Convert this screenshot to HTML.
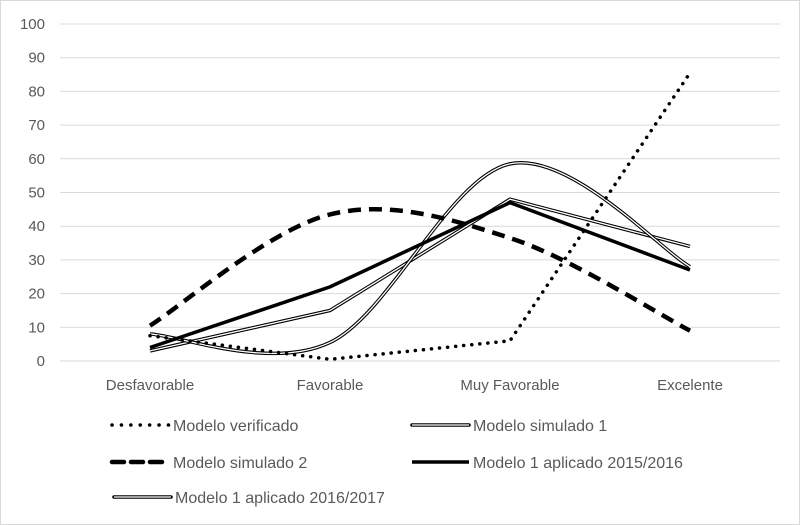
<!DOCTYPE html>
<html><head><meta charset="utf-8"><style>
html,body{margin:0;padding:0;background:#fff;}
svg{display:block;font-family:"Liberation Sans",sans-serif;}
</style></head><body>
<svg id="chart" width="800" height="525">
<rect x="0.5" y="0.5" width="799" height="524" fill="#fff" stroke="#d9d9d9"/>
<g id="grid"></g><g id="ylab"></g><g id="xlab"></g><g id="series"></g><g id="legend"></g>
</svg>
<script>
const categories=["Desfavorable","Favorable","Muy Favorable","Excelente"];
const yTicks=[0,10,20,30,40,50,60,70,80,90,100];
const verificado=[7.5,0.5,6,85.5];
const simulado1=[3,15,48,34];
const simulado2=[10.5,43.5,36.5,9];
const aplicado1516=[4,22,47,27];
const aplicado1617=[8,5.5,58.5,28];
const NS="http://www.w3.org/2000/svg";
const x0=60,x1=780,yBase=361,yTop=24;
function xs(i){return x0+(x1-x0)*(i+0.5)/categories.length;}
function ys(v){return yBase-(yBase-yTop)*v/100;}
function mk(tag,attrs,parent){const e=document.createElementNS(NS,tag);for(const k in attrs)e.setAttribute(k,attrs[k]);parent.appendChild(e);return e;}
const grid=document.getElementById('grid'),ylab=document.getElementById('ylab'),xlab=document.getElementById('xlab');
yTicks.forEach(t=>{
 const l=mk('line',{x1:x0,x2:x1,y1:ys(t),y2:ys(t),stroke:'#d9d9d9','stroke-width':1},grid);
 
 
 const tx=mk('text',{x:45,y:ys(t)+5,'text-anchor':'end','font-size':15,fill:'#595959'},ylab);
 tx.textContent=t;
 
 
});
categories.forEach((c,i)=>{
 const tx=mk('text',{x:xs(i),y:390,'text-anchor':'middle','font-size':15,fill:'#595959'},xlab);
 tx.textContent=c;
 
 
});
function straight(d){return d.map((v,i)=>(i?'L':'M')+xs(i)+','+ys(v)).join(' ');}
function smooth(d){
 const p=d.map((v,i)=>[xs(i),ys(v)]);
 let s='M'+p[0][0]+','+p[0][1];
 for(let i=0;i<p.length-1;i++){
  const a=p[Math.max(i-1,0)],b=p[i],c=p[i+1],e=p[Math.min(i+2,p.length-1)];
  const c1=[b[0]+(c[0]-a[0])/6,b[1]+(c[1]-a[1])/6],c2=[c[0]-(e[0]-b[0])/6,c[1]-(e[1]-b[1])/6];
  s+=` C${c1[0]},${c1[1]} ${c2[0]},${c2[1]} ${c[0]},${c[1]}`;
 }
 return s;
}
const ser=document.getElementById('series');
function drawDouble(d,name,parent){
 const g=mk('g',{},parent);
 
 
 mk('path',{d:d,fill:'none',stroke:'#000','stroke-width':3.5},g);
 mk('path',{d:d,fill:'none',stroke:'#fff','stroke-width':1.3},g);
 return g;
}
drawDouble(straight(simulado1),'series-modelo-simulado-1',ser);
drawDouble(smooth(aplicado1617),'series-modelo-1-aplicado-2016-2017',ser);
let p=mk('path',{d:smooth(simulado2),fill:'none',stroke:'#000','stroke-width':4.5,'stroke-dasharray':'13 8'},ser);


p=mk('path',{d:straight(aplicado1516),fill:'none',stroke:'#000','stroke-width':3.5},ser);


p=mk('path',{d:straight(verificado),fill:'none',stroke:'#000','stroke-width':3.5,'stroke-dasharray':'0.1 8','stroke-linecap':'round'},ser);


// legend
const leg=document.getElementById('legend');
const items=[
 ['Modelo verificado',110,425,'dot'],['Modelo simulado 1',410,425,'double'],
 ['Modelo simulado 2',110,462,'dash'],['Modelo 1 aplicado 2015/2016',410,462,'thick'],
 ['Modelo 1 aplicado 2016/2017',112,497,'double']];
items.forEach(([t,x,y,k])=>{
 const g=mk('g',{},leg);
 
 
 const d=`M${x+2},${y} L${x+59},${y}`;
 if(k==='dot')mk('path',{d:d,stroke:'#000','stroke-width':3.5,'stroke-dasharray':'0.1 9.3','stroke-linecap':'round',fill:'none'},g);
 if(k==='dash')mk('path',{d:`M${x+2},${y} L${x+58},${y}`,stroke:'#000','stroke-width':4.5,'stroke-dasharray':'12 7','stroke-linecap':'round',fill:'none'},g);
 if(k==='thick')mk('path',{d:d,stroke:'#000','stroke-width':3.5,fill:'none'},g);
 if(k==='double'){mk('path',{d:d,stroke:'#000','stroke-width':3.5,'stroke-linecap':'round',fill:'none'},g);mk('path',{d:d,stroke:'#fff','stroke-width':1.3,fill:'none'},g);}
 const tx=mk('text',{x:x+63,y:y+6,'font-size':16,fill:'#595959'},g);
 tx.textContent=t;
});
</script>
</body></html>
